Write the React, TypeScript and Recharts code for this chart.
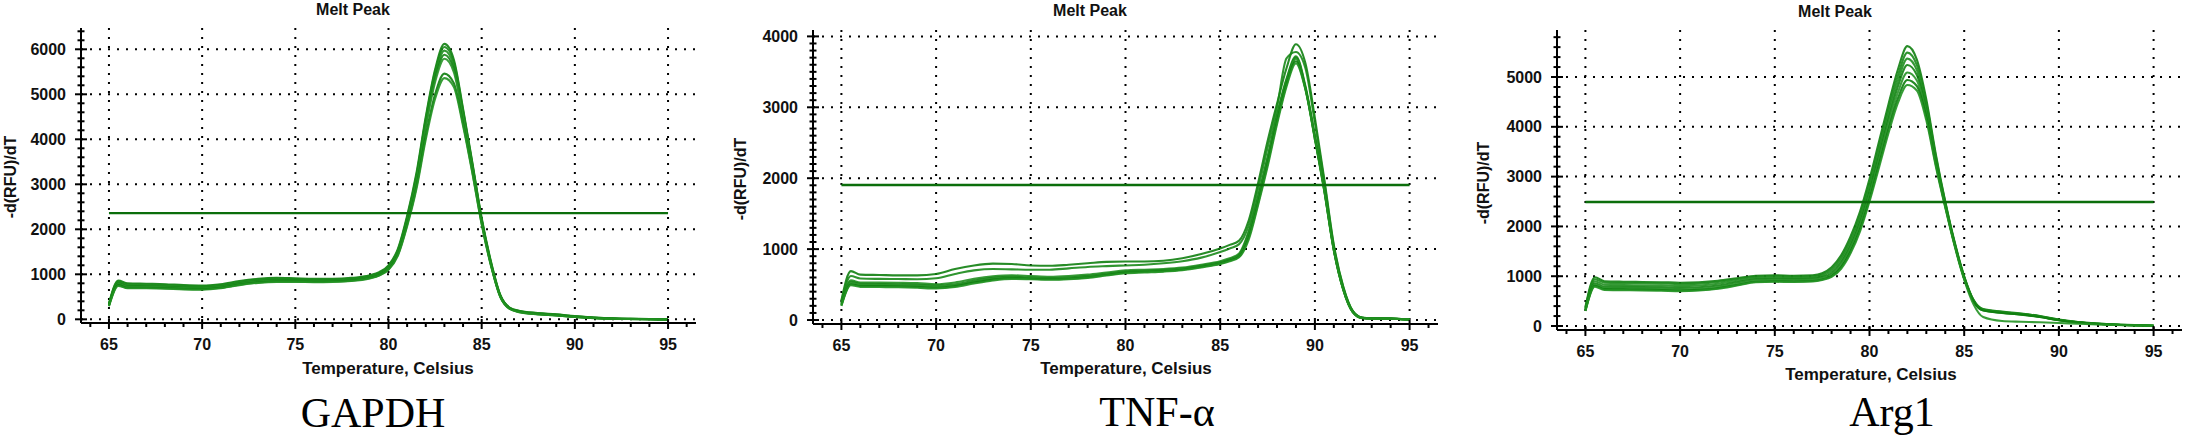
import React from 'react';
import { LineChart, Line, XAxis, YAxis, CartesianGrid, ReferenceLine } from 'recharts';

// temperature ticks shared by all three melt peak plots
const xMajorTicks = [65, 70, 75, 80, 85, 90, 95];
const xMinorTicks = [64, 65, 66, 67, 68, 69, 70, 71, 72, 73, 74, 75, 76, 77, 78, 79, 80, 81, 82, 83, 84, 85, 86, 87, 88, 89, 90, 91, 92, 93, 94, 95, 96];
const xDomain: [number, number] = [63.5, 96.5];

// ---- GAPDH ----
const gapdhTemps = [65, 65.5, 66, 67, 68, 69, 70, 71, 72, 73, 74, 75, 76, 77, 78, 79, 79.5, 80, 80.5, 81, 81.5, 82, 82.5, 83, 83.5, 84, 84.5, 85, 85.5, 86, 86.5, 87, 88, 89, 90, 91, 92, 93, 94, 95];
const gapdhA = [350, 860, 800, 790, 780, 760, 750, 780, 850, 900, 920, 910, 900, 900, 920, 980, 1050, 1200, 1560, 2300, 3250, 4500, 5550, 6120, 5780, 4680, 3480, 2250, 1280, 540, 260, 190, 140, 110, 70, 40, 20, 12, 8, -5];
const gapdhB = [340, 840, 780, 775, 765, 745, 735, 765, 835, 885, 905, 895, 885, 885, 905, 965, 1030, 1180, 1530, 2260, 3200, 4450, 5500, 6050, 5720, 4640, 3450, 2220, 1260, 530, 255, 185, 135, 105, 65, 38, 18, 10, 6, -5];
const gapdhC = [330, 820, 760, 755, 745, 725, 715, 745, 815, 865, 885, 880, 870, 870, 890, 950, 1010, 1160, 1500, 2220, 3150, 4400, 5430, 5970, 5650, 4600, 3420, 2200, 1240, 520, 250, 180, 130, 100, 62, 35, 16, 9, 5, -5];
const gapdhD = [320, 800, 740, 735, 725, 705, 700, 730, 800, 850, 870, 865, 860, 860, 880, 940, 1000, 1140, 1480, 2190, 3100, 4330, 5350, 5880, 5570, 4550, 3400, 2190, 1230, 520, 245, 175, 125, 95, 58, 32, 15, 8, 5, -5];
const gapdhE = [310, 780, 720, 715, 705, 690, 685, 715, 785, 835, 855, 850, 845, 850, 870, 930, 990, 1130, 1460, 2160, 3060, 4270, 5270, 5790, 5500, 4500, 3370, 2170, 1220, 510, 240, 170, 120, 92, 55, 30, 14, 7, 4, -5];
const gapdhF = [300, 760, 700, 700, 690, 675, 670, 700, 770, 820, 840, 840, 835, 840, 860, 920, 980, 1110, 1430, 2100, 2950, 4080, 5000, 5460, 5250, 4350, 3280, 2130, 1200, 500, 235, 165, 115, 88, 52, 28, 12, 6, 3, -5];
const gapdhG = [290, 740, 690, 690, 680, 665, 660, 690, 760, 810, 830, 830, 825, 830, 850, 910, 970, 1100, 1410, 2070, 2900, 4000, 4900, 5360, 5170, 4300, 3250, 2110, 1190, 495, 230, 160, 110, 85, 50, 26, 11, 5, 3, -5];
const gapdhThreshold = 2360;
const gapdhYMajor = [0, 1000, 2000, 3000, 4000, 5000, 6000];
const gapdhYMinor = [0, 200, 400, 600, 800, 1000, 1200, 1400, 1600, 1800, 2000, 2200, 2400, 2600, 2800, 3000, 3200, 3400, 3600, 3800, 4000, 4200, 4400, 4600, 4800, 5000, 5200, 5400, 5600, 5800, 6000, 6200, 6400];

// ---- TNF-alpha ----
const tnfTemps = [65, 65.5, 66, 67, 68, 69, 70, 71, 72, 73, 74, 75, 76, 77, 78, 79, 80, 81, 82, 83, 84, 85, 85.5, 86, 86.5, 87, 87.5, 88, 88.5, 89, 89.5, 90, 90.5, 91, 91.5, 92, 92.5, 93, 94, 95];
const tnfA = [280, 690, 640, 635, 630, 630, 650, 720, 770, 795, 790, 770, 765, 780, 800, 820, 825, 825, 835, 870, 930, 1010, 1060, 1120, 1400, 1930, 2520, 3050, 3550, 3890, 3620, 2850, 1980, 1060, 470, 130, 35, 25, 22, 5];
const tnfB = [260, 620, 585, 580, 578, 575, 590, 650, 700, 720, 715, 710, 710, 728, 748, 760, 770, 780, 800, 830, 880, 960, 1010, 1070, 1330, 1850, 2430, 3000, 3690, 3780, 3550, 2780, 1940, 1040, 460, 125, 33, 24, 21, 5];
const tnfC = [240, 560, 530, 528, 525, 520, 505, 530, 580, 615, 630, 620, 610, 620, 640, 670, 700, 710, 720, 740, 780, 830, 870, 940, 1250, 1750, 2300, 2900, 3400, 3720, 3300, 2600, 1860, 1010, 440, 120, 30, 22, 20, 5];
const tnfD = [225, 540, 510, 508, 505, 498, 485, 505, 555, 595, 610, 600, 592, 600, 620, 652, 685, 695, 705, 725, 765, 815, 855, 920, 1220, 1720, 2270, 2870, 3380, 3700, 3280, 2580, 1840, 1000, 435, 118, 30, 22, 20, 5];
const tnfE = [215, 520, 495, 492, 490, 483, 470, 490, 540, 580, 598, 590, 582, 590, 610, 642, 675, 687, 698, 718, 758, 805, 845, 905, 1190, 1690, 2240, 2840, 3350, 3680, 3270, 2570, 1830, 990, 430, 115, 28, 21, 19, 5];
const tnfF = [205, 505, 480, 478, 475, 468, 455, 478, 528, 570, 590, 583, 575, 582, 602, 635, 668, 680, 690, 710, 750, 798, 838, 895, 1160, 1650, 2200, 2800, 3320, 3650, 3260, 2560, 1820, 985, 428, 112, 28, 21, 19, 5];
const tnfG = [200, 490, 468, 465, 462, 455, 445, 465, 515, 558, 580, 575, 568, 575, 595, 628, 660, 672, 683, 703, 742, 790, 828, 885, 1130, 1620, 2160, 2760, 3290, 3620, 3250, 2550, 1810, 980, 425, 110, 27, 20, 18, 5];
const tnfThreshold = 1905;
const tnfYMajor = [0, 1000, 2000, 3000, 4000];
const tnfYMinor = [0, 100, 200, 300, 400, 500, 600, 700, 800, 900, 1000, 1100, 1200, 1300, 1400, 1500, 1600, 1700, 1800, 1900, 2000, 2100, 2200, 2300, 2400, 2500, 2600, 2700, 2800, 2900, 3000, 3100, 3200, 3300, 3400, 3500, 3600, 3700, 3800, 3900, 4000];

// ---- Arg1 ----
const argTemps = [65, 65.5, 66, 67, 68, 69, 70, 71, 72, 73, 74, 75, 76, 77, 77.5, 78, 78.5, 79, 79.5, 80, 80.5, 81, 81.5, 82, 82.5, 83, 83.5, 84, 84.5, 85, 85.5, 86, 87, 88, 89, 90, 91, 92, 93, 94, 95];
const argA = [380, 980, 900, 890, 885, 880, 870, 880, 910, 960, 1010, 1020, 1010, 1020, 1060, 1180, 1420, 1800, 2300, 2950, 3700, 4450, 5150, 5620, 5350, 4550, 3450, 2500, 1680, 1000, 520, 340, 290, 250, 200, 130, 80, 50, 30, 20, 5];
const argB = [360, 940, 870, 862, 858, 852, 842, 852, 885, 940, 990, 1000, 992, 1000, 1035, 1140, 1370, 1730, 2220, 2860, 3600, 4350, 5030, 5490, 5240, 4480, 3410, 2480, 1660, 990, 510, 330, 280, 245, 195, 125, 78, 48, 28, 18, 5];
const argC = [345, 900, 830, 822, 818, 812, 802, 815, 850, 910, 965, 975, 968, 975, 1010, 1100, 1320, 1670, 2150, 2780, 3500, 4250, 4920, 5370, 5140, 4410, 3370, 2460, 1650, 980, 505, 325, 275, 240, 190, 122, 76, 46, 27, 17, 5];
const argD = [330, 860, 790, 785, 780, 775, 765, 778, 815, 880, 940, 950, 945, 952, 985, 1060, 1270, 1610, 2080, 2700, 3420, 4150, 4810, 5240, 5040, 4340, 3330, 2440, 1640, 970, 500, 320, 270, 235, 185, 120, 74, 45, 26, 16, 5];
const argE = [315, 830, 760, 755, 750, 745, 735, 748, 785, 850, 915, 925, 920, 928, 960, 1030, 1220, 1550, 2010, 2620, 3330, 4050, 4690, 5090, 4930, 4270, 3290, 2420, 1630, 960, 495, 315, 265, 232, 182, 118, 72, 44, 25, 15, 5];
const argF = [305, 810, 740, 735, 730, 722, 712, 725, 760, 825, 890, 900, 895, 905, 935, 1000, 1180, 1500, 1950, 2550, 3250, 3950, 4570, 4940, 4820, 4200, 3250, 2400, 1620, 950, 490, 310, 262, 228, 180, 115, 70, 42, 24, 14, 5];
const argG = [300, 790, 725, 720, 715, 708, 698, 712, 748, 812, 878, 888, 885, 895, 925, 985, 1150, 1460, 1900, 2500, 3180, 3870, 4480, 4840, 4730, 4130, 3210, 2380, 1600, 930, 430, 180, 100, 85, 75, 60, 45, 30, 20, 12, 5];
const argThreshold = 2490;
const argYMajor = [0, 1000, 2000, 3000, 4000, 5000];
const argYMinor = [0, 200, 400, 600, 800, 1000, 1200, 1400, 1600, 1800, 2000, 2200, 2400, 2600, 2800, 3000, 3200, 3400, 3600, 3800, 4000, 4200, 4400, 4600, 4800, 5000, 5200, 5400, 5600, 5800];

const greens = ['#0f7f0f', '#1a8a1a', '#208f20', '#148414', '#289428', '#0d7d0d', '#229222'];

const tickFont: React.CSSProperties = {
  fontFamily: '"Liberation Sans", Arial, sans-serif',
  fontWeight: 700,
  fontSize: 16,
};

const BottomTick = (props: any) => {
  const { x, y, payload } = props;
  const major = payload.value % 5 === 0;
  return (
    <g>
      <line x1={x} x2={x} y1={major ? y - 4 : y} y2={y + (major ? 6 : 4)} stroke="#000" strokeWidth={2} />
      {major && (
        <text x={x} y={y + 27} textAnchor="middle" fill="#111" style={tickFont}>
          {payload.value}
        </text>
      )}
    </g>
  );
};

const TopTick = (props: any) => {
  const { x, y, payload } = props;
  const major = payload.value % 5 === 0;
  return <line x1={x} x2={x} y1={y} y2={y + (major ? 5 : 3)} stroke="#000" strokeWidth={2} />;
};

const LeftTick = (props: any) => {
  const { x, y, payload } = props;
  const major = payload.value % 1000 === 0;
  const len = major ? 6 : 3.5;
  return (
    <g>
      <line x1={x - len} x2={x + len} y1={y} y2={y} stroke="#000" strokeWidth={2} />
      {major && (
        <text x={x - 15} y={y + 5.5} textAnchor="end" fill="#111" style={tickFont}>
          {payload.value}
        </text>
      )}
    </g>
  );
};

const RightTick = (props: any) => {
  const { x, y, payload } = props;
  const major = payload.value % 1000 === 0;
  return <line x1={x - (major ? 6 : 3)} x2={x} y1={y} y2={y} stroke="#000" strokeWidth={2} />;
};

interface PanelProps {
  left: number;
  margin: { top: number; right: number; bottom: number; left: number };
  temps: number[];
  curves: number[][];
  threshold: number;
  yDomain: [number, number];
  yMajor: number[];
  yMinor: number[];
}

const frameLine = { stroke: '#000', strokeWidth: 2 };

const MeltPanel: React.FC<PanelProps> = ({ left, margin, temps, curves, threshold, yDomain, yMajor, yMinor }) => {
  const rows = temps.map((t, i) => {
    const row: Record<string, number> = { t };
    curves.forEach((c, k) => {
      row['s' + k] = c[i];
    });
    return row;
  });

  return (
    <div style={{ position: 'absolute', left, top: 0 }}>
      <LineChart width={730} height={380} data={rows} margin={margin}>
        <CartesianGrid
          stroke="#000"
          strokeWidth={2}
          strokeDasharray="2 7"
          verticalValues={xMajorTicks}
          horizontalValues={yMajor}
        />
        <XAxis
          dataKey="t"
          type="number"
          domain={xDomain}
          allowDataOverflow
          ticks={xMinorTicks}
          interval={0}
          height={40}
          tickSize={0}
          tickMargin={0}
          tickLine={false}
          axisLine={frameLine}
          tick={<BottomTick />}
        />
        <XAxis
          xAxisId="top"
          orientation="top"
          dataKey="t"
          type="number"
          domain={xDomain}
          allowDataOverflow
          ticks={xMinorTicks}
          interval={0}
          height={0}
          tickSize={0}
          tickMargin={0}
          tickLine={false}
          axisLine={frameLine}
          tick={<TopTick />}
        />
        <YAxis
          type="number"
          domain={yDomain}
          allowDataOverflow
          ticks={yMinor}
          interval={0}
          width={60}
          tickSize={0}
          tickMargin={0}
          tickLine={false}
          axisLine={frameLine}
          tick={<LeftTick />}
        />
        <YAxis
          yAxisId="right"
          orientation="right"
          type="number"
          domain={yDomain}
          allowDataOverflow
          ticks={yMinor}
          interval={0}
          width={0}
          tickSize={0}
          tickMargin={0}
          tickLine={false}
          axisLine={frameLine}
          tick={<RightTick />}
        />
        {curves.map((_, k) => (
          <Line
            key={k}
            dataKey={'s' + k}
            type="monotone"
            stroke={greens[k % greens.length]}
            strokeWidth={2.1}
            strokeOpacity={0.9}
            dot={false}
            isAnimationActive={false}
          />
        ))}
        <ReferenceLine
          segment={[{ x: 65, y: threshold }, { x: 95, y: threshold }]}
          stroke="#0b6e0b"
          strokeWidth={2.4}
        />
      </LineChart>
    </div>
  );
};

const labelFont: React.CSSProperties = {
  fontFamily: '"Liberation Sans", Arial, sans-serif',
  fontWeight: 700,
  fill: '#111',
};

const geneFont: React.CSSProperties = {
  fontFamily: '"Liberation Serif", "Times New Roman", serif',
  fontSize: 42,
  fill: '#000',
};

const App: React.FC = () => {
  return (
    <div style={{ position: 'relative', width: 2186, height: 437, background: '#fff', overflow: 'hidden' }}>
      <style>{'body{margin:0}'}</style>
      <MeltPanel
        left={0}
        margin={{ top: 28, right: 34, bottom: 17, left: 21 }}
        temps={gapdhTemps}
        curves={[gapdhA, gapdhB, gapdhC, gapdhD, gapdhE, gapdhF, gapdhG]}
        threshold={gapdhThreshold}
        yDomain={[-82, 6473]}
        yMajor={gapdhYMajor}
        yMinor={gapdhYMinor}
      />
      <MeltPanel
        left={730}
        margin={{ top: 30, right: 22, bottom: 16, left: 23 }}
        temps={tnfTemps}
        curves={[tnfA, tnfB, tnfC, tnfD, tnfE, tnfF, tnfG]}
        threshold={tnfThreshold}
        yDomain={[-56, 4090]}
        yMajor={tnfYMajor}
        yMinor={tnfYMinor}
      />
      <MeltPanel
        left={1456}
        margin={{ top: 30, right: 4, bottom: 10, left: 41 }}
        temps={argTemps}
        curves={[argA, argB, argC, argD, argE, argF, argG]}
        threshold={argThreshold}
        yDomain={[-80, 5944]}
        yMajor={argYMajor}
        yMinor={argYMinor}
      />
      <svg width={2186} height={437} style={{ position: 'absolute', left: 0, top: 0, pointerEvents: 'none' }}>
        <text x={353} y={15} textAnchor="middle" fontSize={16} style={labelFont}>Melt Peak</text>
        <text x={1090} y={16} textAnchor="middle" fontSize={16} style={labelFont}>Melt Peak</text>
        <text x={1835} y={17} textAnchor="middle" fontSize={16} style={labelFont}>Melt Peak</text>

        <text x={388} y={374} textAnchor="middle" fontSize={17} style={labelFont}>Temperature, Celsius</text>
        <text x={1126} y={374} textAnchor="middle" fontSize={17} style={labelFont}>Temperature, Celsius</text>
        <text x={1871} y={380} textAnchor="middle" fontSize={17} style={labelFont}>Temperature, Celsius</text>

        <text x={10} y={177} transform="rotate(-90 10 177)" textAnchor="middle" dominantBaseline="central" fontSize={16} style={labelFont}>-d(RFU)/dT</text>
        <text x={740} y={179} transform="rotate(-90 740 179)" textAnchor="middle" dominantBaseline="central" fontSize={16} style={labelFont}>-d(RFU)/dT</text>
        <text x={1483} y={183} transform="rotate(-90 1483 183)" textAnchor="middle" dominantBaseline="central" fontSize={16} style={labelFont}>-d(RFU)/dT</text>

        <text x={373} y={427} textAnchor="middle" style={geneFont}>GAPDH</text>
        <text x={1157} y={426} textAnchor="middle" style={geneFont}>TNF-α</text>
        <text x={1892} y={426} textAnchor="middle" style={geneFont}>Arg1</text>
      </svg>
    </div>
  );
};

export default App;
